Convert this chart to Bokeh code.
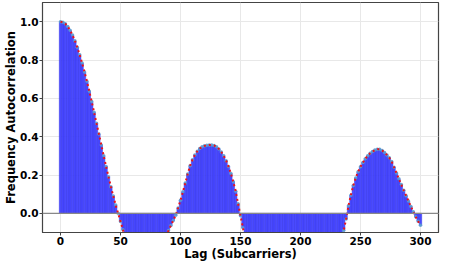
from bokeh.plotting import figure
from bokeh.models import Range1d, Span, FixedTicker, PrintfTickFormatter, ColumnDataSource
from bokeh.embed import file_html
from bokeh.resources import INLINE

lags = list(range(0, 301, 2))
autocorr = [
    # 0 - 18
    1.000, 0.997, 0.989, 0.975, 0.955, 0.930, 0.900, 0.866, 0.827, 0.784,
    # 20 - 38
    0.738, 0.689, 0.637, 0.583, 0.527, 0.470, 0.414, 0.357, 0.300, 0.245,
    # 40 - 58
    0.191, 0.139, 0.090, 0.043, 0.000, -0.042, -0.085, -0.125, -0.165, -0.200,
    # 60 - 78
    -0.230, -0.255, -0.275, -0.290, -0.298, -0.300, -0.297, -0.290, -0.275, -0.260,
    # 80 - 98
    -0.240, -0.215, -0.180, -0.148, -0.118, -0.090, -0.063, -0.037, -0.010, 0.028,
    # 100 - 118
    0.068, 0.112, 0.158, 0.205, 0.248, 0.280, 0.305, 0.324, 0.338, 0.347,
    # 120 - 138
    0.352, 0.355, 0.357, 0.357, 0.354, 0.347, 0.336, 0.320, 0.300, 0.275,
    # 140 - 158
    0.244, 0.208, 0.165, 0.115, 0.050, -0.012, -0.075, -0.135, -0.190, -0.240,
    # 160 - 178
    -0.285, -0.325, -0.360, -0.390, -0.415, -0.435, -0.450, -0.462, -0.470, -0.476,
    # 180 - 198
    -0.480, -0.482, -0.482, -0.480, -0.477, -0.473, -0.468, -0.462, -0.456, -0.450,
    # 200 - 218
    -0.445, -0.440, -0.436, -0.432, -0.428, -0.424, -0.418, -0.410, -0.400, -0.388,
    # 220 - 238
    -0.373, -0.355, -0.333, -0.307, -0.277, -0.243, -0.205, -0.150, -0.090, -0.030,
    # 240 - 258
    0.040, 0.095, 0.145, 0.185, 0.217, 0.243, 0.265, 0.285, 0.300, 0.313,
    # 260 - 278
    0.323, 0.330, 0.335, 0.334, 0.328, 0.318, 0.305, 0.290, 0.270, 0.240,
    # 280 - 298
    0.210, 0.180, 0.150, 0.120, 0.092, 0.064, 0.036, 0.008, -0.018, -0.041,
    # 300
    -0.062,
]

x_ticks = [0, 50, 100, 150, 200, 250, 300]
y_ticks = [0.0, 0.2, 0.4, 0.6, 0.8, 1.0]

src = ColumnDataSource(dict(lag=lags, r=autocorr))

p = figure(frame_width=396, frame_height=230, output_backend="svg", toolbar_location=None,
           x_range=Range1d(-15, 315), y_range=Range1d(-0.1, 1.1),
           min_border_left=0, min_border_right=3, min_border_top=2, min_border_bottom=0)

p.vbar(x="lag", top="r", bottom=0, width=2.0, source=src,
       fill_color="#4040ff", fill_alpha=0.95, line_color="#3535e6", line_width=0.5)
p.add_layout(Span(location=0, dimension="width", line_color="#888888", line_width=1.2))
p.scatter(x="lag", y="r", source=src, size=3.5, marker="circle",
          fill_color="#5a9bd0", line_color=None, fill_alpha=0.9)
p.line(x="lag", y="r", source=src, line_color="#e8141a", line_width=2, line_dash="2 3")

p.xaxis.ticker = FixedTicker(ticks=x_ticks)
p.yaxis.ticker = FixedTicker(ticks=y_ticks)
p.yaxis.formatter = PrintfTickFormatter(format="%.1f")
p.xaxis.axis_label = "Lag (Subcarriers)"
p.yaxis.axis_label = "Frequency Autocorrelation"
for ax in (p.xaxis, p.yaxis):
    ax.axis_label_text_font = "DejaVu Sans"
    ax.axis_label_text_font_style = "bold"
    ax.axis_label_text_font_size = "11.5px"
    ax.major_label_text_font = "DejaVu Sans"
    ax.major_label_text_font_style = "bold"
    ax.major_label_text_font_size = "10.5px"
    ax.major_label_text_color = "#000000"
    ax.axis_label_text_color = "#000000"
    ax.axis_line_color = "#444444"
    ax.major_tick_line_color = "#444444"
    ax.major_tick_out = 3
    ax.major_tick_in = 0
    ax.minor_tick_line_color = None
    ax.major_label_standoff = 1
    ax.axis_label_standoff = -1

p.xgrid.grid_line_color = "#e8e8e8"
p.ygrid.grid_line_color = "#e8e8e8"
p.outline_line_color = "#444444"
p.outline_line_width = 1.2
p.background_fill_color = "white"
p.border_fill_color = "white"

open("out.html", "w").write(file_html(p, INLINE))
